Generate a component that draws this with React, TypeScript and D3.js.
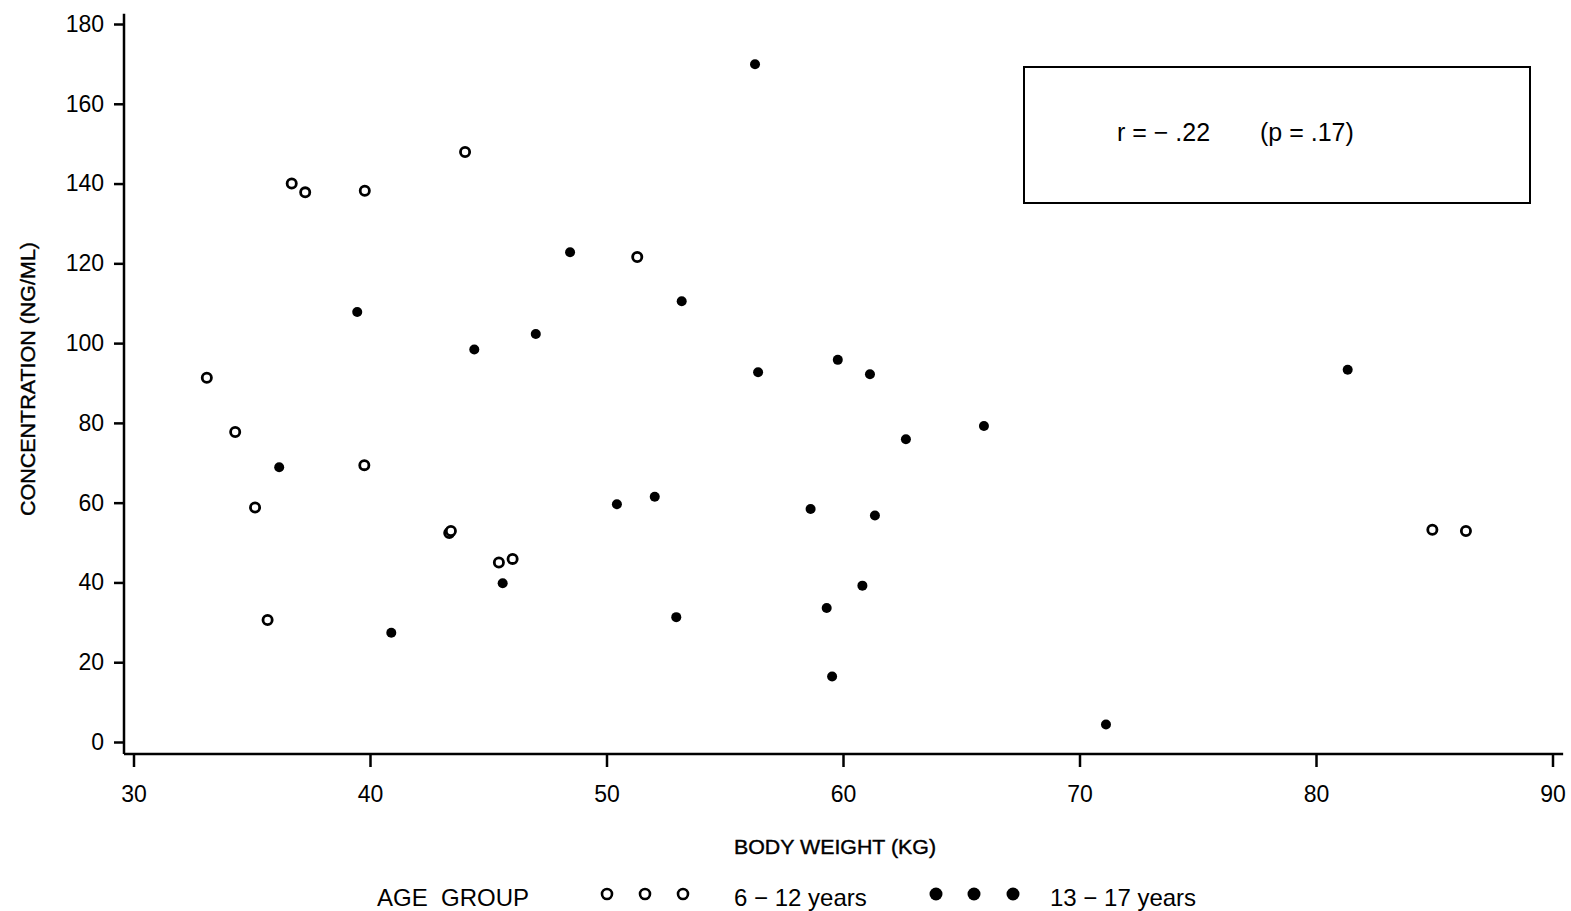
import React, { useEffect, useRef } from "react"
import * as d3 from "d3"

// 6-12 years (open circles)
const youngWeight = [33.1, 34.3, 35.14, 35.67, 36.69, 37.26, 39.78, 39.76, 44.02, 43.35, 43.42, 45.45, 46.03, 51.3, 84.92, 86.34]
const youngConc = [91.3, 77.7, 58.8, 30.6, 140.0, 137.8, 138.2, 69.4, 147.9, 52.4, 52.9, 45.0, 45.9, 121.6, 53.2, 52.9]

// 13-17 years (filled circles)
const olderWeight = [36.16, 39.46, 40.9, 44.41, 45.61, 47.01, 48.46, 50.44, 52.04, 52.95, 53.18, 56.28, 56.41, 58.63, 59.31, 59.54, 59.78, 60.82, 61.14, 61.35, 62.66, 65.96, 71.12, 81.34]
const olderConc = [68.9, 107.8, 27.4, 98.4, 39.8, 102.3, 122.8, 59.6, 61.5, 31.3, 110.5, 169.9, 92.7, 58.4, 33.6, 16.4, 95.8, 39.2, 92.2, 56.8, 75.9, 79.2, 4.4, 93.3]

const xMajorTicks = [30, 40, 50, 60, 70, 80, 90]
const yMajorTicks = [0, 20, 40, 60, 80, 100, 120, 140, 160, 180]

const FONT = "'Liberation Sans', Arial, Helvetica, sans-serif"
const NARROW = "'Liberation Sans Narrow', 'Liberation Sans', Arial, sans-serif"

export default function App() {
  const ref = useRef<SVGSVGElement>(null)

  useEffect(() => {
    const svg = d3.select(ref.current)
    svg.selectAll("*").remove()

    const x = d3.scaleLinear().domain([30, 90]).range([133.5, 1552.5])
    const y = d3.scaleLinear().domain([0, 180]).range([742, 24])
    const axisX = 124
    const axisY = 754

    // y axis
    const yAxis = svg.append("g").attr("transform", `translate(${axisX},0)`)
    yAxis.call(
      d3.axisLeft(y).tickValues(d3.range(0, 181, 4)).tickSize(6).tickFormat(() => "")
    )
    yAxis.call(
      d3.axisLeft(y).tickValues(yMajorTicks).tickSize(10).tickPadding(10).tickFormat(d3.format("d"))
    )
    yAxis.selectAll(".domain").remove()
    yAxis.selectAll("line").attr("stroke", "#000").attr("stroke-width", 2.5)
    yAxis.selectAll("text")
      .attr("font-family", FONT)
      .attr("font-size", 23)
      .attr("fill", "#000")
    svg.append("line")
      .attr("x1", axisX).attr("x2", axisX)
      .attr("y1", y(182.6)).attr("y2", axisY)
      .attr("stroke", "#000").attr("stroke-width", 2.5)

    // x axis
    const xAxis = svg.append("g").attr("transform", `translate(0,${axisY})`)
    xAxis.call(
      d3.axisBottom(x).tickValues(d3.range(30, 91, 1)).tickSize(6.5).tickFormat(() => "")
    )
    xAxis.call(
      d3.axisBottom(x).tickValues(xMajorTicks).tickSize(13).tickPadding(19).tickFormat(d3.format("d"))
    )
    xAxis.selectAll(".domain").remove()
    xAxis.selectAll("line").attr("stroke", "#000").attr("stroke-width", 2.5)
    xAxis.selectAll("text")
      .attr("font-family", FONT)
      .attr("font-size", 23)
      .attr("fill", "#000")
    svg.append("line")
      .attr("x1", axisX).attr("x2", x(90.45))
      .attr("y1", axisY).attr("y2", axisY)
      .attr("stroke", "#000").attr("stroke-width", 2.5)

    // axis titles
    svg.append("text")
      .attr("transform", `translate(35,${379}) rotate(-90)`)
      .attr("text-anchor", "middle")
      .attr("font-family", NARROW)
      .attr("font-size", 21)
      .attr("stroke", "#000")
      .attr("stroke-width", 0.4)
      .attr("textLength", 274)
      .attr("lengthAdjust", "spacingAndGlyphs")
      .text("CONCENTRATION (NG/ML)")
    svg.append("text")
      .attr("x", 835)
      .attr("y", 854)
      .attr("text-anchor", "middle")
      .attr("font-family", NARROW)
      .attr("font-size", 21)
      .attr("stroke", "#000")
      .attr("stroke-width", 0.4)
      .attr("textLength", 202)
      .attr("lengthAdjust", "spacingAndGlyphs")
      .text("BODY WEIGHT (KG)")

    // points
    const young = youngWeight.map((w, i) => [w, youngConc[i]])
    const older = olderWeight.map((w, i) => [w, olderConc[i]])
    svg.append("g").selectAll("circle").data(older).enter().append("circle")
      .attr("cx", d => x(d[0]))
      .attr("cy", d => y(d[1]))
      .attr("r", 5)
      .attr("fill", "#000")
    svg.append("g").selectAll("circle").data(young).enter().append("circle")
      .attr("cx", d => x(d[0]))
      .attr("cy", d => y(d[1]))
      .attr("r", 4.6)
      .attr("fill", "#fff")
      .attr("stroke", "#000")
      .attr("stroke-width", 2.8)

    // correlation box
    svg.append("rect")
      .attr("x", 1024).attr("y", 67)
      .attr("width", 506).attr("height", 136)
      .attr("fill", "none")
      .attr("stroke", "#000")
      .attr("stroke-width", 2)
    const stat = svg.append("text")
      .attr("y", 141)
      .attr("font-family", FONT)
      .attr("font-size", 25)
    stat.append("tspan").attr("x", 1117).text("r = \u2212 .22")
    stat.append("tspan").attr("x", 1260).text("(p = .17)")

    // legend
    const ly = 894
    const lg = svg.append("g").attr("font-family", FONT).attr("font-size", 24)
    lg.append("text").attr("x", 377).attr("y", ly + 12).attr("xml:space", "preserve").text("AGE  GROUP")
    ;[607, 645, 683].forEach(cx => {
      lg.append("circle").attr("cx", cx).attr("cy", ly).attr("r", 5)
        .attr("fill", "#fff").attr("stroke", "#000").attr("stroke-width", 2.6)
    })
    lg.append("text").attr("x", 734).attr("y", ly + 12).text("6 \u2212 12  years")
    ;[936, 974, 1013].forEach(cx => {
      lg.append("circle").attr("cx", cx).attr("cy", ly).attr("r", 6.5).attr("fill", "#000")
    })
    lg.append("text").attr("x", 1050).attr("y", ly + 12).text("13 \u2212 17  years")
  }, [])

  return (
    <svg
      ref={ref}
      width={1571}
      height={911}
      style={{ position: "absolute", left: 0, top: 0, background: "#fff" }}
    />
  )
}
